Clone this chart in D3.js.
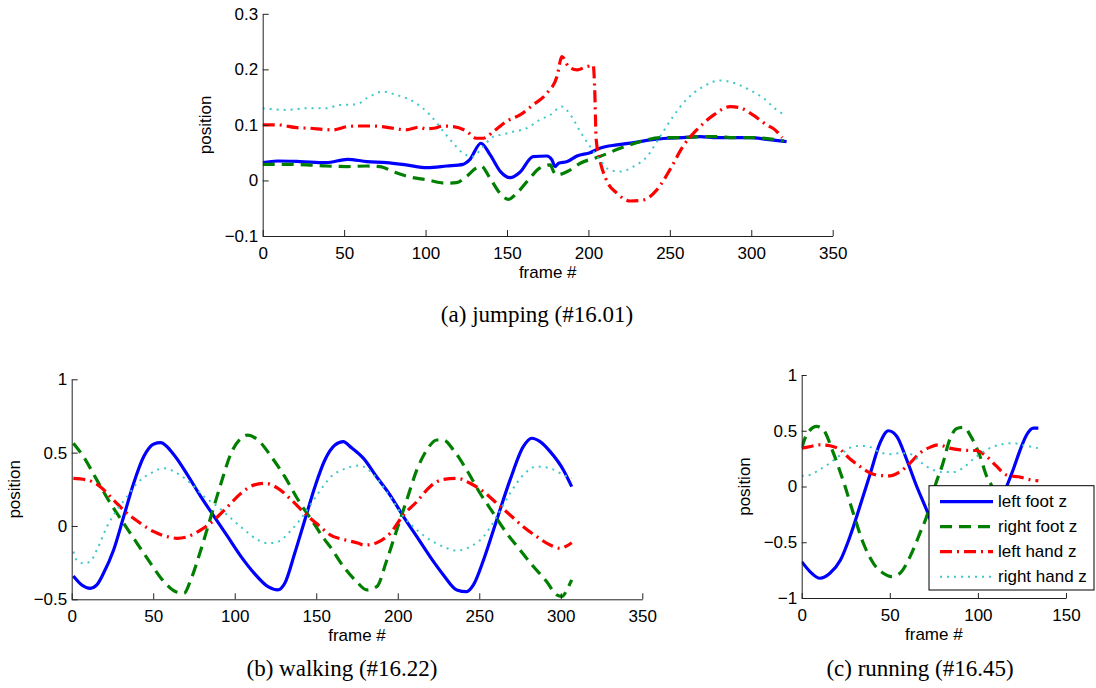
<!DOCTYPE html>
<html><head><meta charset="utf-8">
<script src="https://cdn.jsdelivr.net/npm/d3@7"></script>
<style>body{margin:0;background:#fff} svg{display:block} .ax text{font-family:"Liberation Sans",Arial,Helvetica,sans-serif}</style>
</head><body><svg id="chart" width="1096" height="688"></svg>
<script>
// ---------- data: [frame, position] ----------
const seriesNames = ["left foot z", "right foot z", "left hand z", "right hand z"];

const jumpLeftFoot = [[0,0.032],[9,0.035],[23,0.034],[39,0.032],[52,0.038],[64,0.034],[76,0.032],[88,0.028],[101,0.023],[113,0.026],[123,0.029],[127,0.037],[134,0.067],[139.5,0.047],[146,0.016],[152,0.005],[158,0.015],[166,0.043],[174.5,0.044],[177.6,0.037],[179.6,0.025],[181.7,0.031],[187,0.034],[193,0.044],[201,0.05],[207,0.058],[217.5,0.064],[228,0.068],[238,0.073],[248,0.076],[258,0.077],[268.6,0.079],[279,0.077],[289,0.077],[299,0.077],[309.5,0.074],[321.7,0.07]];
const jumpRightFoot = [[0,0.029],[15,0.029],[27,0.028],[39,0.026],[52,0.025],[64,0.026],[72,0.025],[80,0.016],[88,0.008],[101,0.001],[113,-0.005],[119,-0.004],[125,0.007],[131,0.022],[134,0.026],[139.6,0.004],[145.7,-0.023],[151,-0.034],[156,-0.023],[164,0.004],[170,0.022],[176.6,0.028],[178.6,0.016],[180.7,0.01],[187,0.016],[195,0.031],[207,0.043],[219.5,0.058],[232,0.07],[244,0.077],[256,0.077],[268.6,0.079],[279,0.079],[289,0.077],[301,0.077],[313.6,0.074],[320,0.071]];
const jumpLeftHand = [[0,0.1],[9,0.1],[21,0.095],[29,0.094],[37,0.092],[43,0.091],[52,0.097],[58,0.098],[68,0.098],[80,0.094],[88,0.091],[96,0.096],[100,0.093],[105,0.094],[111,0.098],[117,0.097],[125,0.089],[131,0.076],[135.5,0.076],[141.6,0.088],[150,0.107],[158,0.118],[166,0.136],[174.5,0.157],[180.7,0.187],[183.7,0.223],[187.8,0.205],[193,0.199],[199,0.205],[203,0.207],[203.8,0.169],[204.8,0.073],[207,0.037],[211,0.001],[217.5,-0.023],[225.6,-0.037],[234,-0.035],[242,-0.017],[250,0.019],[258,0.061],[266.5,0.091],[277,0.118],[287,0.133],[293,0.131],[301,0.118],[309.5,0.1],[314.6,0.091],[319,0.077]];
const jumpRightHand = [[0,0.13],[15,0.127],[27,0.13],[39,0.13],[47.5,0.136],[57.7,0.137],[64,0.148],[74,0.16],[82,0.154],[92.5,0.142],[102.7,0.118],[111,0.088],[117,0.067],[123,0.049],[129,0.043],[134.4,0.058],[141.6,0.079],[146,0.082],[154,0.088],[162,0.094],[170,0.109],[176.6,0.118],[183.7,0.133],[189,0.118],[195,0.088],[201,0.061],[207,0.037],[213,0.019],[219.5,0.016],[227.7,0.025],[236,0.043],[244,0.079],[252,0.115],[260,0.145],[270.6,0.169],[280.8,0.18],[289,0.176],[297,0.166],[307.5,0.148],[315.6,0.127],[320.6,0.118]];

const walkLeftFoot = [[1,-0.341],[6.2,-0.402],[11.3,-0.425],[15.4,-0.402],[19.5,-0.323],[25.7,-0.164],[31.9,0.064],[38,0.291],[44.2,0.473],[50.4,0.559],[54.5,0.568],[62.8,0.484],[71,0.348],[79.2,0.2],[87.4,0.064],[95.7,-0.073],[103.9,-0.209],[112,-0.323],[120.4,-0.414],[126.5,-0.436],[130.7,-0.391],[136.8,-0.186],[143,0.041],[149.2,0.268],[155.3,0.45],[161.5,0.552],[166.7,0.575],[170.8,0.541],[179,0.461],[187,0.336],[195.3,0.211],[203.5,0.064],[211.7,-0.073],[219.8,-0.209],[228,-0.334],[236.2,-0.436],[242.3,-0.448],[246.4,-0.402],[252.6,-0.232],[260.7,0.041],[268.9,0.314],[277,0.541],[282.2,0.598],[287.3,0.575],[293.5,0.507],[301.6,0.382],[306.7,0.268]];
const walkRightFoot = [[1,0.564],[7.2,0.473],[15.4,0.314],[23.7,0.155],[31.9,0.018],[40.1,-0.118],[48.4,-0.255],[56.6,-0.38],[63.8,-0.448],[68.9,-0.459],[73,-0.368],[79.2,-0.164],[85.4,0.064],[91.6,0.291],[97.7,0.495],[103.9,0.598],[108,0.62],[114.2,0.586],[122.4,0.473],[130.7,0.336],[138.9,0.177],[147.1,0.041],[155.3,-0.095],[158.5,-0.141],[166.7,-0.277],[174.8,-0.38],[181,-0.436],[187.1,-0.414],[193.3,-0.232],[199.4,-0.027],[205.5,0.177],[211.7,0.382],[217.8,0.518],[224,0.586],[228,0.586],[234.2,0.518],[242.3,0.382],[250.5,0.223],[258.7,0.086],[266.9,-0.05],[275,-0.164],[283.2,-0.277],[291.4,-0.38],[297.5,-0.47],[300.6,-0.48],[304.7,-0.414],[306.7,-0.368]];
const walkLeftHand = [[1,0.325],[9.3,0.314],[17.5,0.268],[25.7,0.177],[34,0.086],[42.2,0.018],[50.4,-0.039],[58.6,-0.073],[64.8,-0.084],[71,-0.073],[79.2,-0.027],[87.4,0.041],[95.7,0.132],[103.9,0.223],[112,0.28],[118.3,0.291],[126.5,0.257],[134.8,0.177],[143,0.086],[151.2,0.007],[158.5,-0.06],[167.7,-0.095],[175.9,-0.118],[179,-0.13],[187.1,-0.114],[195.3,-0.05],[203.5,0.075],[211.7,0.166],[219.8,0.268],[228,0.318],[236.2,0.325],[244.4,0.291],[252.6,0.234],[260.7,0.155],[268.9,0.075],[277,-0.005],[285.3,-0.073],[293.5,-0.13],[299.6,-0.152],[303.7,-0.136],[306.7,-0.114]];
const walkRightHand = [[1,-0.175],[3,-0.232],[7.2,-0.255],[11.3,-0.243],[15.4,-0.164],[21.6,-0.005],[27.8,0.109],[34,0.2],[40.1,0.291],[48.4,0.359],[56.6,0.393],[64.8,0.359],[73,0.291],[81.3,0.2],[89.5,0.132],[97.7,0.052],[106,-0.027],[114.2,-0.095],[120.4,-0.118],[126.5,-0.107],[134.8,-0.027],[143,0.086],[151.2,0.223],[159.5,0.34],[167.7,0.39],[175.9,0.412],[179,0.405],[187.1,0.325],[195.3,0.2],[203.5,0.064],[211.7,-0.027],[219.8,-0.095],[228,-0.141],[236.2,-0.168],[244.4,-0.141],[252.6,-0.073],[260.7,0.064],[268.9,0.223],[277,0.348],[285.3,0.405],[293.5,0.393],[301.6,0.348],[306.7,0.325]];

const runLeftFoot = [[0,-0.674],[4.7,-0.763],[10.4,-0.823],[16,-0.778],[22,-0.659],[27.4,-0.449],[33,-0.18],[39,0.12],[44.4,0.389],[49.2,0.5],[54,0.449],[59.6,0.24],[65.3,0],[70.9,-0.21],[76,-0.42],[82,-0.65],[88,-0.78],[92,-0.8],[97,-0.72],[103,-0.5],[110,-0.22],[116.3,0],[120,0.15],[124,0.329],[127.7,0.464],[131.5,0.524],[134.3,0.524]];
const runRightFoot = [[0,0.344],[2.8,0.464],[8.5,0.539],[12.3,0.509],[18,0.299],[24,0.03],[29.3,-0.24],[35,-0.509],[40.7,-0.689],[46.3,-0.778],[51.1,-0.808],[55.8,-0.778],[61.5,-0.629],[67.1,-0.419],[70.9,-0.269],[76,0.02],[80,0.2],[84,0.42],[88,0.52],[92,0.53],[96,0.45],[101,0.28],[105,0.09],[108,0],[112,-0.2],[118,-0.45],[124,-0.65],[130,-0.78],[134,-0.8]];
const runLeftHand = [[0,0.344],[5,0.359],[10,0.374],[16,0.365],[22,0.329],[27,0.254],[33,0.18],[39,0.12],[44,0.099],[50,0.096],[56,0.135],[61.5,0.21],[67,0.299],[73,0.353],[77.5,0.374],[84,0.344],[90,0.329],[95.5,0.323],[99,0.323],[105,0.269],[110.7,0.18],[116,0.105],[124,0.084],[130,0.06],[134.3,0.051]];
const runRightHand = [[0,0.096],[5,0.105],[10,0.15],[16,0.21],[22,0.284],[27,0.344],[33,0.365],[39,0.353],[44,0.31],[50,0.29],[56,0.3],[62,0.29],[67,0.225],[73,0.16],[80,0.13],[86,0.13],[91,0.16],[97,0.24],[105,0.33],[112,0.374],[120,0.389],[126,0.37],[134,0.344]];

const frameTicksLong = [0,50,100,150,200,250,300,350];
const frameTicksShort = [0,50,100,150];
const jumpYTicks = [-0.1,0,0.1,0.2,0.3];
const walkYTicks = [-0.5,0,0.5,1];
const runYTicks = [-1,-0.5,0,0.5,1];
const captions = ["(a)  jumping (#16.01)", "(b)  walking (#16.22)", "(c)  running (#16.45)"];

// ---------- styling ----------
const FS = 17;
const SANS = "Liberation Sans, Arial, Helvetica, sans-serif";
const lineStyles = [
  {color:"#0000ff", dash:null, w:3.2},
  {color:"#007f00", dash:"12,7", w:3.2},
  {color:"#ff0000", dash:"12,5,2,5", w:3.2},
  {color:"#3cc8c8", dash:"2,5", w:2}
];
const svg = d3.select("#chart");
const fmt = d => d < 0 ? "\u2212" + String(Math.abs(d)) : String(d);

function panel(cfg) {
  const x = d3.scaleLinear().domain(cfg.xd).range([cfg.x0, cfg.x1]);
  const y = d3.scaleLinear().domain(cfg.yd).range([cfg.yb, cfg.yt]);
  const g = svg.append("g");
  const clipId = "clip" + cfg.id;
  svg.append("clipPath").attr("id", clipId).append("rect")
    .attr("x", cfg.x0).attr("y", cfg.yt - 4).attr("width", cfg.x1 - cfg.x0).attr("height", cfg.yb - cfg.yt + 8);
  const line = d3.line().x(d => x(d[0])).y(d => y(d[1])).curve(d3.curveMonotoneX);
  const lg = g.append("g").attr("clip-path", `url(#${clipId})`);
  cfg.series.forEach((s, i) => {
    const st = lineStyles[i];
    lg.append("path").datum(s).attr("d", line).attr("fill", "none")
      .attr("stroke", st.color).attr("stroke-width", st.w)
      .attr("stroke-dasharray", st.dash).attr("stroke-linejoin", "round");
  });
  const xa = g.append("g").attr("class", "ax").attr("transform", `translate(0,${cfg.yb})`)
    .call(d3.axisBottom(x).tickValues(cfg.xt).tickFormat(fmt).tickSizeInner(-cfg.tick).tickSizeOuter(0).tickPadding(10.5));
  const ya = g.append("g").attr("class", "ax").attr("transform", `translate(${cfg.x0},0)`)
    .call(d3.axisLeft(y).tickValues(cfg.yt2).tickFormat(fmt).tickSizeInner(-cfg.tick).tickSizeOuter(0).tickPadding(4.5));
  [xa, ya].forEach(a => {
    a.selectAll("text").attr("font-size", FS).attr("fill", "#000");
    a.selectAll("line").attr("stroke", "#222");
    a.select(".domain").attr("stroke", "#222");
  });
  g.append("text").attr("x", (cfg.x0 + cfg.x1) / 2).attr("y", cfg.yb + 42)
    .attr("text-anchor", "middle").attr("font-size", FS).attr("font-family", SANS).text("frame #");
  g.append("text").attr("transform", `translate(${cfg.x0 - 52},${(cfg.yt + cfg.yb) / 2}) rotate(-90)`)
    .attr("text-anchor", "middle").attr("font-size", FS).attr("font-family", SANS).text("position");
  g.append("text").attr("x", cfg.capX).attr("y", cfg.capY).attr("text-anchor", "middle")
    .attr("font-family", "Liberation Serif, Times New Roman, serif").attr("font-size", 23).text(cfg.caption);
  return {x, y, g};
}

panel({id:"a", xd:[0,350], yd:[-0.1,0.3], x0:262.7, x1:832.7, yt:13.8, yb:236, tick:6,
  xt:frameTicksLong, yt2:jumpYTicks, series:[jumpLeftFoot, jumpRightFoot, jumpLeftHand, jumpRightHand],
  caption:captions[0], capX:537, capY:322});
panel({id:"b", xd:[0,350], yd:[-0.5,1], x0:71.7, x1:642.3, yt:379.3, yb:599.3, tick:6,
  xt:frameTicksLong, yt2:walkYTicks, series:[walkLeftFoot, walkRightFoot, walkLeftHand, walkRightHand],
  caption:captions[1], capX:342, capY:676});
panel({id:"c", xd:[0,150], yd:[-1,1], x0:801.7, x1:1066, yt:375, yb:598, tick:5,
  xt:frameTicksShort, yt2:runYTicks, series:[runLeftFoot, runRightFoot, runLeftHand, runRightHand],
  caption:captions[2], capX:920, capY:676});

// legend (panel c)
const leg = svg.append("g").attr("transform", "translate(929,485.7)");
leg.append("rect").attr("width", 165).attr("height", 104.3).attr("fill", "#fff").attr("stroke", "#000").attr("stroke-width", 1);
seriesNames.forEach((name, i) => {
  const st = lineStyles[i];
  const cy = 16 + i * 25;
  leg.append("line").attr("x1", 11).attr("x2", 64).attr("y1", cy).attr("y2", cy)
    .attr("stroke", st.color).attr("stroke-width", st.w).attr("stroke-dasharray", st.dash);
  leg.append("text").attr("x", 69).attr("y", cy + 5.5).attr("font-size", FS)
    .attr("font-family", SANS).text(name);
});
</script></body></html>
